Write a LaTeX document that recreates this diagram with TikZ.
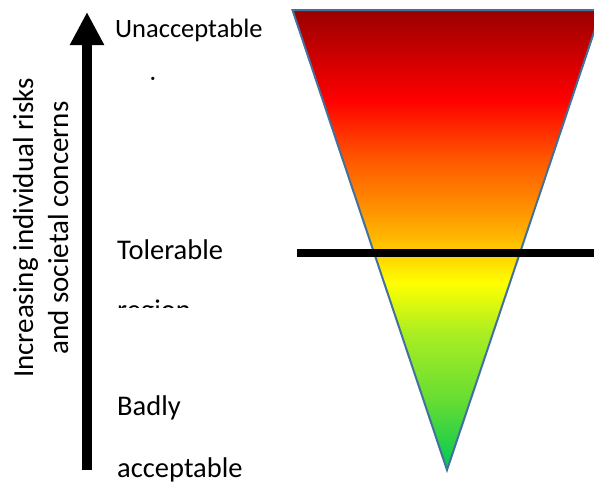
\documentclass[tikz,border=0pt]{standalone}
\usepackage{fontspec}
\setmainfont{Carlito}
\usetikzlibrary{arrows.meta}
\definecolor{rgreen}{RGB}{0,200,85}
\definecolor{rlgreen}{RGB}{102,221,51}
\definecolor{rygreen}{RGB}{170,238,34}
\definecolor{ryellow}{RGB}{255,255,0}
\definecolor{rgold}{RGB}{255,176,0}
\definecolor{rorange}{RGB}{255,136,0}
\definecolor{rdorange}{RGB}{255,85,0}
\definecolor{rred}{RGB}{255,0,0}
\definecolor{rdark}{RGB}{153,0,0}
\definecolor{tribord}{RGB}{65,113,156}
\pgfdeclareverticalshading{riskshade}{100bp}{color(0bp)=(rgreen); color(25bp)=(rgreen); color(32.6bp)=(rlgreen); color(39.9bp)=(rygreen); color(45.3bp)=(ryellow); color(50.8bp)=(rgold); color(54.3bp)=(rorange); color(59bp)=(rdorange); color(65.2bp)=(rred); color(75bp)=(rdark); color(100bp)=(rdark)}
\begin{document}
\begin{tikzpicture}[x=1pt,y=-1pt,
  lbl/.style={anchor=base west, font=\fontsize{28.5}{34}\selectfont, inner sep=0pt},
  lbltop/.style={anchor=base west, font=\fontsize{26.5}{32}\selectfont, inner sep=0pt},
  side/.style={rotate=90, anchor=base, font=\fontsize{29}{35}\selectfont, inner sep=0pt}]
\useasboundingbox (0,0) rectangle (594,482);
\clip (0,0) rectangle (594,482);
% funnel
\coordinate (tl) at (292.5,10);
\coordinate (tr) at (601.5,10);
\coordinate (ap) at (447,470);
\path[shading=riskshade, draw=tribord, line width=2pt, line join=miter] (tl) -- (tr) -- (ap) -- cycle;
% threshold line
\coordinate (hl) at (297,253);
\coordinate (hr) at (600,253);
\draw[line width=8pt] (hl) -- (hr);
% arrow
\coordinate (ab) at (87,470);
\coordinate (at) at (87,12);
\draw[line width=10pt, -{Triangle[width=32pt,length=33pt]}] (ab) -- (at);
% side labels
\node[side] (s1) at (33,228) {Increasing individual risks};
\node[side] (s2) at (68,228) {and societal concerns};
% region labels
\node[lbltop] (unacc) at (115,37) {Unacceptable};
\begin{scope}
  \clip (100,60) rectangle (300,81);
  \node[lbltop] (ureg) at (115,95.5) {region};
\end{scope}
\node[lbl] (tol) at (117,259) {Tolerable};
\begin{scope}
  \clip (100,280) rectangle (300,307.5);
  \node[lbl] (treg) at (117,319) {region};
\end{scope}
\node[lbl] (badly) at (117,415) {Badly};
\node[lbl] (acc) at (117,477) {acceptable};
\end{tikzpicture}
\end{document}
